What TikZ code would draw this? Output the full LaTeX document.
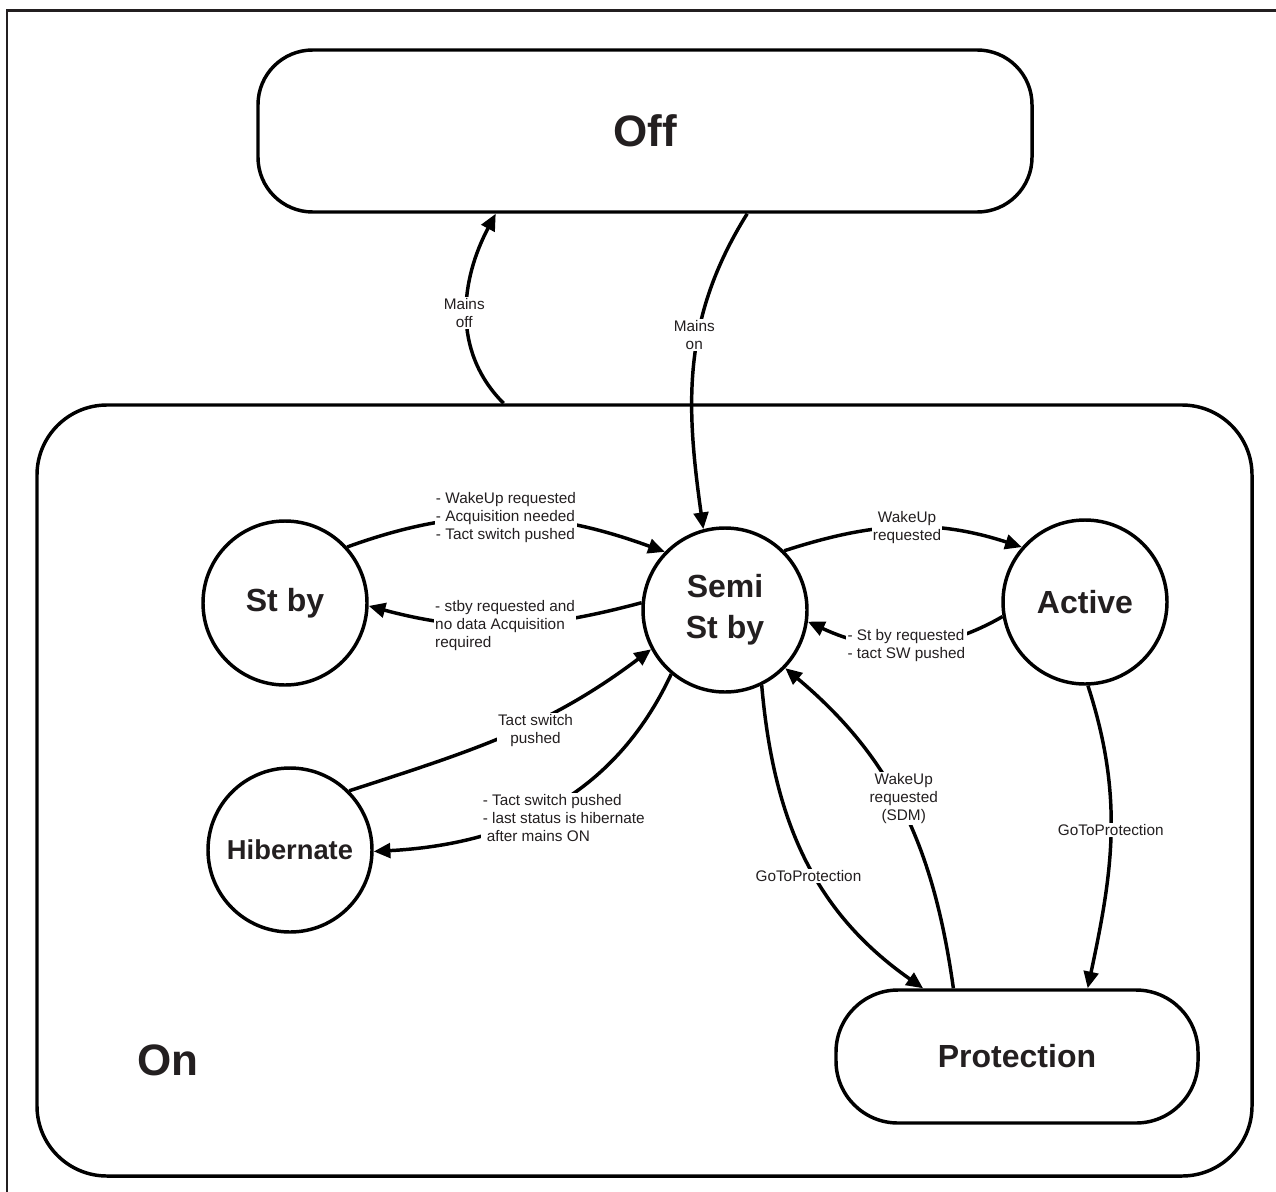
\documentclass[tikz,border=0pt]{standalone}
\usepackage{fontspec}
\setmainfont{Liberation Sans}
\usetikzlibrary{positioning,arrows.meta}
\definecolor{ink}{HTML}{231F20}

\begin{document}
\begin{tikzpicture}[x=0.75pt,y=0.75pt,
  state/.style={circle, draw, line width=2.6pt, minimum size=123pt, inner sep=0pt, align=center, text=ink, font=\fontsize{24}{31}\selectfont\bfseries},
  superstate/.style={rectangle, draw, line width=2.6pt, inner sep=0pt, text=ink, font=\fontsize{33}{38}\selectfont\bfseries},
  trans/.style={line width=2.6pt, -{Triangle[length=12.5pt,width=11pt]}},
  lbl/.style={fill=white, inner sep=1pt, align=center, text=ink, font=\fontsize{11.5}{13.5}\selectfont}]

\useasboundingbox (0,0) rectangle (1276,-1191);
\draw[line width=1.6pt, ink] (1300,-10.5) -| (7,-1220);

\node[superstate, rounded corners=41pt, minimum width=580.5pt, minimum height=121.5pt] (off) at (645,-131) {Off};
\node[superstate, rounded corners=52.5pt, minimum width=911.25pt, minimum height=578.25pt] (on) at (644.5,-790.5) {};
\node[text=ink, font=\fontsize{33}{38}\selectfont\bfseries] (onname) at (168,-1060) {On};

\node[state] (semi) at (725,-610) {Semi\\St by};
\node[state] (stby) at (285,-603) {St by};
\node[state] (active) at (1085,-602) {Active};
\node[state, font=\fontsize{20.5}{24}\selectfont\bfseries] (hib) at (290,-850) {Hibernate};
\node[superstate, rounded corners=46.5pt, minimum width=271.5pt, minimum height=99.75pt, font=\fontsize{24}{28}\selectfont\bfseries] (prot) at (1017,-1056.5) {Protection};

\draw[trans] (on.110) to[out=135,in=242] node[lbl,xshift=-2pt]{Mains\\off} (off.209);
\draw[trans] (off.-39) to[out=238,in=98] node[lbl,pos=0.4,xshift=-3pt]{Mains\\on} (semi.105);
\draw[trans] (stby.42) to[out=20,in=160] node[lbl,align=left]{- WakeUp requested\\- Acquisition needed\\- Tact switch pushed} (semi.136);
\draw[trans] (semi.175) to[out=195,in=-15] node[lbl,align=left]{- stby requested and\\no data Acquisition\\required} (stby.-2);
\draw[trans] (semi.45) to[out=18,in=162] node[lbl,xshift=3pt]{WakeUp\\requested} (active.139);
\draw[trans] (active.190) to[out=210,in=-25] node[lbl,align=left]{- St by requested\\- tact SW pushed} (semi.-8);
\draw[trans] (hib.45) to[out=18,in=217] node[lbl,pos=0.6,yshift=-7pt]{Tact switch\\pushed} (semi.208);
\draw[trans] (semi.230) to[out=245,in=3] node[lbl,align=left,xshift=9pt,yshift=-9pt]{- Tact switch pushed\\- last status is hibernate\\\hspace*{3pt}after mains ON} (hib.-1);
\draw[trans] (semi.-64) to[out=-85,in=145] node[lbl,pos=0.56,xshift=-5pt]{GoToProtection} (prot.144);
\draw[trans] (prot.133) to[out=98,in=-40] node[lbl,pos=0.55,xshift=7pt,yshift=-3pt]{WakeUp\\requested\\(SDM)} (semi.-44);
\draw[trans] (active.-88) to[out=-72,in=78] node[lbl,pos=0.48]{GoToProtection} (prot.44);
\end{tikzpicture}
\end{document}
